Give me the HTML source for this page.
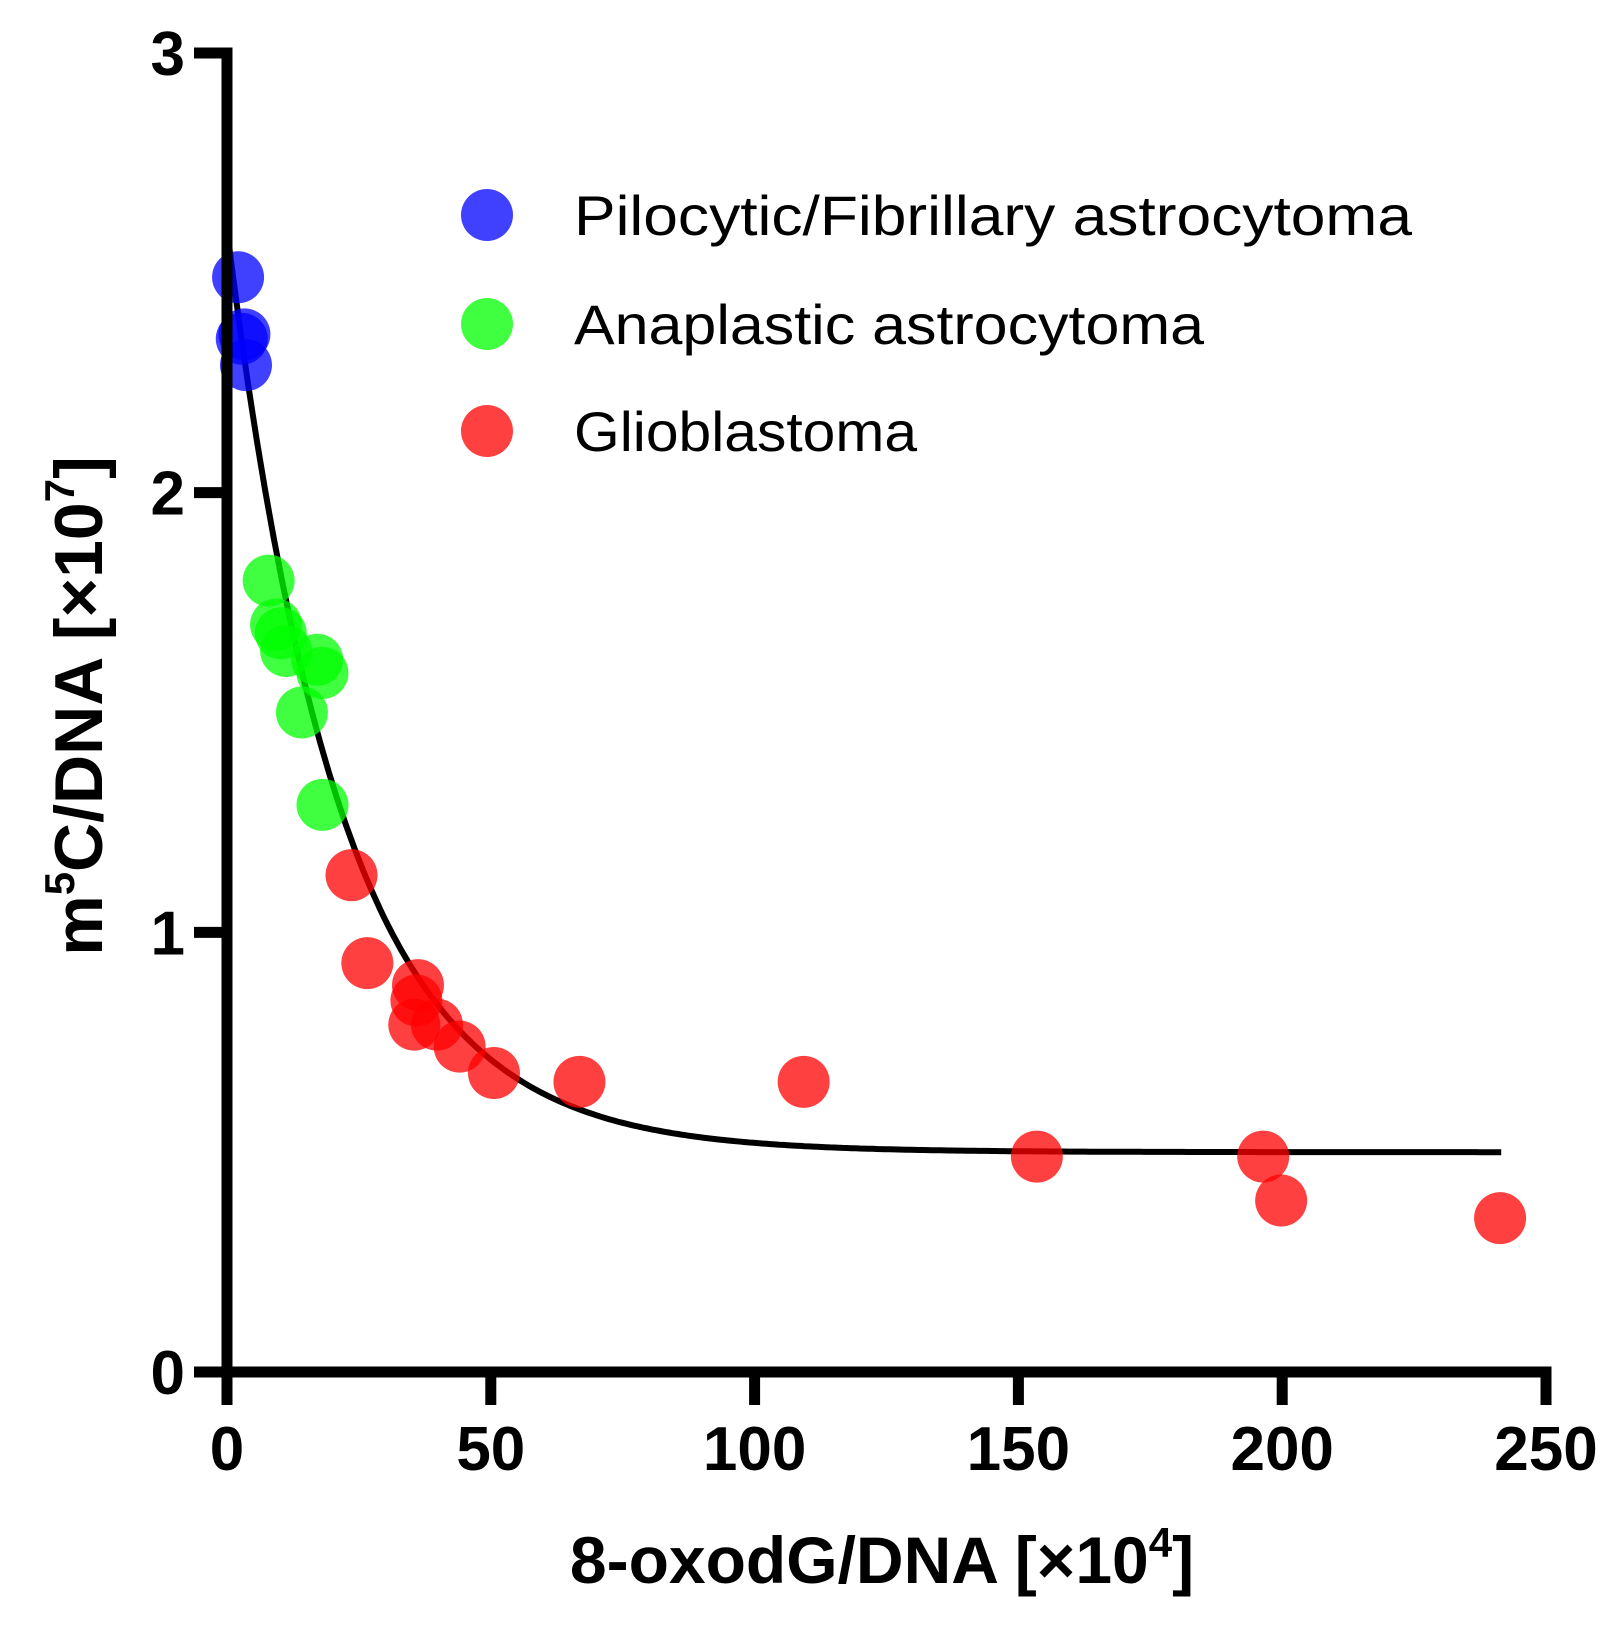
<!DOCTYPE html>
<html><head><meta charset="utf-8"><style>
html,body{margin:0;padding:0;background:#fff;}
svg{display:block;font-family:"Liberation Sans",Arial,sans-serif;}
</style></head><body>
<svg id="chart" width="1620" height="1633" viewBox="0 0 1620 1633" xmlns="http://www.w3.org/2000/svg">
<g id="curve-layer"></g>
<g id="points"></g>
<g id="axes"></g>
<g font-size="56">
  <circle cx="487" cy="215" r="26" fill="#0000ff" fill-opacity="0.75"/>
  <text x="574" y="235" textLength="838" lengthAdjust="spacingAndGlyphs">Pilocytic/Fibrillary astrocytoma</text>
  <circle cx="487" cy="324" r="26" fill="#00ff00" fill-opacity="0.75"/>
  <text x="574" y="344" textLength="630" lengthAdjust="spacingAndGlyphs">Anaplastic astrocytoma</text>
  <circle cx="487" cy="431" r="26" fill="#ff0000" fill-opacity="0.75"/>
  <text x="574" y="451" textLength="343" lengthAdjust="spacingAndGlyphs">Glioblastoma</text>
</g>
<text x="882" y="1583" text-anchor="middle" font-size="66" font-weight="bold">8-oxodG/DNA [×10<tspan font-size="42" dy="-26">4</tspan><tspan dy="26">]</tspan></text>
<text transform="translate(102,706) rotate(-90)" x="0" y="0" text-anchor="middle" font-size="68" font-weight="bold">m<tspan font-size="42" dy="-28">5</tspan><tspan dy="28">C/DNA [×10</tspan><tspan font-size="42" dy="-28">7</tspan><tspan dy="28">]</tspan></text>
</svg>
<script>
const xTicks=[0,50,100,150,200,250];
const yTicks=[0,1,2,3];
const blueX=[2.1,3.3,3.6,2.8];
const blueY=[2.49,2.36,2.29,2.35];
const greenX=[7.9,9.3,10.2,11.2,17.1,18.1,14.2,18.1];
const greenY=[1.80,1.70,1.68,1.64,1.62,1.59,1.50,1.29];
const redX=[23.6,26.6,36.2,35.9,35.5,39.8,44.1,50.6,66.8,109.3,153.5,196.4,199.8,241.3];
const redY=[1.13,0.93,0.88,0.845,0.79,0.79,0.74,0.68,0.66,0.66,0.49,0.49,0.39,0.35];
const fitParams=[0.50,2.60,0.046]; // plateau, y0, k
const fitRange=[0,241.5];

const NS='http://www.w3.org/2000/svg';
const X0=227,X1=1546,Y0=1372,Y1=53;
const sx=v=>X0+(v-0)/(250-0)*(X1-X0);
const sy=v=>Y0-(v-0)/(3-0)*(Y0-Y1);
function mk(tag,attrs,parent){const e=document.createElementNS(NS,tag);for(const k in attrs)e.setAttribute(k,attrs[k]);parent.appendChild(e);return e;}

const cl=document.getElementById('curve-layer');
let d='';
for(let i=0;i<=300;i++){const x=fitRange[0]+(fitRange[1]-fitRange[0])*i/300;const y=fitParams[0]+(fitParams[1]-fitParams[0])*Math.exp(-fitParams[2]*x);d+=(i?'L':'M')+sx(x).toFixed(1)+','+sy(y).toFixed(1);}
const cp=mk('path',{d:d,fill:'none',stroke:'#000','stroke-width':6},cl);



const pg=document.getElementById('points');
function series(xs,ys,col,name){for(let i=0;i<xs.length;i++){const c=mk('circle',{cx:sx(xs[i]),cy:sy(ys[i]),r:26,fill:col,'fill-opacity':0.75},pg);

}}
series(blueX,blueY,'#0000ff','pilocytic');
series(greenX,greenY,'#00ff00','anaplastic');
series(redX,redY,'#ff0000','glioblastoma');

const ax=document.getElementById('axes');
const yl=mk('line',{x1:X0,y1:Y1-5.5,x2:X0,y2:Y0+5.5,stroke:'#000','stroke-width':11},ax);


const xl=mk('line',{x1:X0-5.5,y1:Y0,x2:X1+5.5,y2:Y0,stroke:'#000','stroke-width':11},ax);


xTicks.forEach(t=>{
 const l=mk('line',{x1:sx(t),y1:Y0,x2:sx(t),y2:Y0+33,stroke:'#000','stroke-width':11},ax);
 
 
 const tx=mk('text',{x:sx(t),y:1470,'text-anchor':'middle','font-size':62,'font-weight':'bold'},ax);
 tx.textContent=t;
 
 
});
yTicks.forEach(t=>{
 const l=mk('line',{x1:X0-33,y1:sy(t),x2:X0,y2:sy(t),stroke:'#000','stroke-width':11},ax);
 
 
 const tx=mk('text',{x:185,y:sy(t)+22,'text-anchor':'end','font-size':62,'font-weight':'bold'},ax);
 tx.textContent=t;
 
 
});
</script>
</body></html>
